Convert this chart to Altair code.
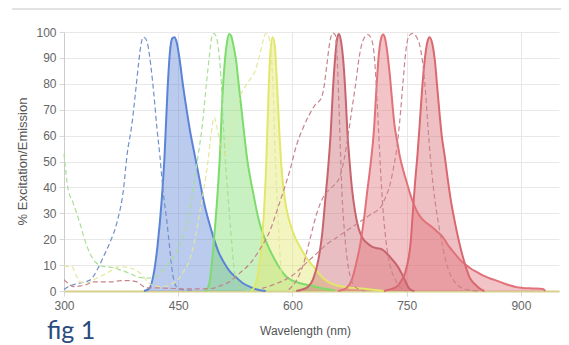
import altair as alt
import pandas as pd

# ---------------- data (wavelength nm, % value) ----------------
blue_ex_nm = [300, 308, 320, 334, 345, 353, 360, 370, 378, 383, 389, 394, 398, 401, 404, 407, 410, 414, 418, 422, 426, 430, 435, 439, 443, 448, 455, 470]
blue_ex_val = [0.6, 2, 3, 4.2, 9, 14, 18.5, 27, 39, 53, 64, 77, 88, 95, 98, 97.5, 95, 87, 76, 63, 52, 39, 27, 16, 6, 1.5, 0.5, 0.3]

blue_em_nm = [405, 412, 418, 423, 428, 432, 436, 439, 442, 445, 448, 452, 456, 461, 466, 472, 478, 484, 490, 496, 503, 510, 518, 527, 535, 545, 555, 565]
blue_em_val = [0, 1, 7, 18, 34, 52, 78, 92, 97.5, 98, 96, 89, 80, 70, 61, 52, 43, 34, 27, 21, 15, 11, 7.5, 5, 3, 1.5, 0.5, 0]

green_ex_nm = [300, 305, 312, 320, 327, 334, 342, 352, 365, 375, 385, 396, 410, 420, 428, 437, 446, 455, 463, 470, 476, 482, 487, 491, 494, 497, 500, 503, 506, 509, 512, 515, 518, 521, 524, 528, 535, 545]
green_ex_val = [53, 40, 34, 27, 20, 14.5, 11, 9.5, 9, 8, 7, 5.5, 5, 5.5, 7.5, 10.5, 14, 20, 27, 40, 52, 65, 80, 91, 98, 99.5, 98, 93, 83, 66, 50, 38, 27, 16, 7, 2, 0.5, 0]

green_em_nm = [485, 490, 494, 497, 501, 505, 508, 511, 514, 517, 520, 523, 526, 529, 532, 535, 538, 541, 545, 549, 553, 558, 564, 570, 577, 584, 592, 600, 610, 625, 640, 655]
green_em_val = [0, 2, 10, 20, 35, 54, 75, 88, 96, 99.2, 98, 94, 89, 81, 73, 65, 57, 50, 43, 37, 31, 25, 20, 16, 12, 8.5, 5.5, 4, 3, 2, 1, 0.3]

yellow_ex_nm = [300, 310, 316, 321, 330, 340, 350, 360, 372, 385, 395, 403, 410, 418, 430, 440, 450, 458, 465, 472, 478, 484, 489, 493, 497, 501, 506, 510, 514, 519, 525, 531, 538, 545, 551, 556, 561, 565, 569, 572, 575, 577, 580, 583, 586, 590, 600]
yellow_ex_val = [9.5, 9.5, 6, 3.5, 3, 4.5, 6, 7.5, 9.4, 9, 8, 6, 3.5, 2, 1.7, 2.5, 4.5, 8, 12, 20, 30, 40, 50, 60, 67, 63, 55, 52, 56, 62, 70, 75, 79, 82, 85, 90, 96, 99.5, 98, 92, 75, 55, 35, 17, 5, 1, 0]

yellow_em_nm = [545, 550, 555, 559, 562, 565, 567, 569, 571, 574, 577, 579, 581, 583, 585, 588, 592, 597, 603, 610, 618, 626, 634, 642, 650, 660, 675, 690, 705, 720]
yellow_em_val = [0, 1.5, 7, 16, 28, 45, 62, 80, 92, 98, 94, 84, 72, 60, 50, 40, 32, 26, 21, 17, 13, 10, 7, 4.5, 3, 2, 1.3, 1, 0.5, 0]

red1_ex_nm = [300, 305, 312, 322, 330, 338, 350, 362, 375, 385, 396, 403, 408, 420, 440, 470, 495, 505, 518, 531, 544, 557, 570, 583, 597, 605, 614, 622, 630, 637, 641, 645, 649, 653, 656, 659, 661, 663, 665, 668, 672, 677, 684, 695]
red1_ex_val = [4.4, 3, 1.7, 2, 2.5, 3.5, 3.5, 3.5, 4, 4, 3.5, 2, 1.2, 1.2, 1, 0.8, 1, 2, 3.7, 7, 10.5, 16, 23, 34, 47, 56, 63, 68, 72, 74, 78, 87, 96, 99.6, 99, 88, 72, 54, 38, 24, 12, 4.5, 1.2, 0]

red1_em_nm = [605, 612, 620, 627, 634, 639, 643, 647, 650, 653, 656, 659, 661, 664, 667, 670, 672, 675, 678, 682, 687, 692, 698, 705, 712, 718, 724, 730, 737, 743, 748, 752, 756, 760]
red1_em_val = [0, 0.5, 1.5, 4.5, 12, 22, 35, 48, 60, 77, 90, 98, 99.2, 96, 88, 74, 62, 50, 40, 31, 24, 20.5, 18.5, 17, 16.5, 16, 14.5, 12.5, 10, 7, 4, 1.5, 0.3, 0]

red2_ex_nm = [595, 605, 614, 623, 632, 640, 648, 655, 662, 668, 673, 678, 683, 688, 693, 699, 704, 707, 710, 713, 716, 719, 723, 728, 734, 741, 750]
red2_ex_val = [0.5, 4, 10, 20, 30, 36, 39, 41, 44, 51, 60, 70, 80, 91, 97, 99, 97, 92, 80, 62, 45, 31, 19, 10, 5, 1.5, 0]

red2_em_nm = [660, 665, 671, 678, 684, 689, 694, 698, 703, 707, 710, 713, 716, 719, 722, 725, 728, 731, 734, 738, 741, 746, 750, 754, 760, 767, 775, 782, 790, 797, 806, 813, 820, 828, 835, 843, 850, 858, 868, 877, 885, 894, 902, 915, 929, 932]
red2_em_val = [0, 0.4, 1.2, 4.4, 11, 18, 28, 38, 50, 62, 77, 90, 97, 99, 97, 91, 83, 73, 64, 57, 52, 46, 42, 38, 33, 29, 26.5, 25, 23, 21, 17, 14.5, 12, 10, 8.5, 7.2, 6, 5, 4, 3, 2.2, 1.5, 1.2, 1, 0.8, 0]

red3_ex_nm = [560, 580, 600, 615, 630, 645, 660, 675, 690, 705, 715, 722, 728, 733, 737, 741, 745, 749, 753, 758, 763, 767, 771, 775, 778, 781, 785, 789, 793, 797, 802, 807, 813, 820, 830, 845]
red3_ex_val = [1, 3, 6, 10, 14, 18, 21, 24, 27, 30, 32, 36, 41, 48, 55, 66, 80, 93, 98.5, 99.5, 98, 95, 88, 76, 63, 52, 40, 31, 24, 17.5, 11, 6.5, 3.5, 1.5, 0.5, 0]

red3_em_nm = [720, 730, 737, 743, 748, 752, 755, 758, 761, 764, 767, 770, 774, 777, 780, 784, 787, 790, 793, 796, 800, 804, 808, 813, 818, 823, 828, 833, 840, 848, 852]
red3_em_val = [0, 0.8, 1.7, 4, 7, 12, 18, 30, 42, 52, 64, 77, 90, 96, 98, 95, 89, 79, 69, 60, 52, 43, 35, 27, 20, 14, 9, 5, 2.5, 0.5, 0]

x_ticks = [300, 450, 600, 750, 900]
y_ticks = [0, 10, 20, 30, 40, 50, 60, 70, 80, 90, 100]

# ---------------- styles ----------------
em_colors = {"blue": "#5b84d6", "green": "#7ddc6b", "yellow": "#e2e76a",
             "red1": "#c8646e", "red2": "#e2727a", "red3": "#da6870"}
ex_colors = {"blue": "#7091c9", "green": "#a8df95", "yellow": "#e4e79c",
             "red1": "#c6848b", "red2": "#c9858c", "red3": "#c9858c"}

em_sets = [("blue", blue_em_nm, blue_em_val), ("green", green_em_nm, green_em_val),
           ("yellow", yellow_em_nm, yellow_em_val), ("red1", red1_em_nm, red1_em_val),
           ("red2", red2_em_nm, red2_em_val), ("red3", red3_em_nm, red3_em_val)]
ex_sets = [("blue", blue_ex_nm, blue_ex_val), ("green", green_ex_nm, green_ex_val),
           ("yellow", yellow_ex_nm, yellow_ex_val), ("red1", red1_ex_nm, red1_ex_val),
           ("red2", red2_ex_nm, red2_ex_val), ("red3", red3_ex_nm, red3_ex_val)]

rows = []
for kind, sets, cmap in (("em", em_sets, em_colors), ("ex", ex_sets, ex_colors)):
    for name, xs, ys in sets:
        for x, y in zip(xs, ys):
            rows.append({"nm": x, "val": y, "series": kind + "_" + name,
                         "kind": kind, "col": cmap[name]})
df = pd.DataFrame(rows)

FONT = "Liberation Sans"
xscale = alt.Scale(domain=[300, 950], nice=False, zero=False)
yscale = alt.Scale(domain=[0, 100], nice=False)

x_enc = alt.X("nm:Q", scale=xscale,
              axis=alt.Axis(values=x_ticks, title="Wavelength (nm)",
                            labelFont=FONT, labelFontSize=12, labelColor="#666666",
                            labelPadding=4, labelFlush=False, labelOverlap=False,
                            tickSize=5, tickColor="#d8d8d8",
                            domainColor="#d6cf8e", domainWidth=2,
                            gridColor="#e8e8e8", titleFont=FONT, titleFontSize=12,
                            titleFontWeight="normal", titleColor="#555555",
                            titleX=241, titleY=43, titleBaseline="alphabetic"))
y_enc = alt.Y("val:Q", scale=yscale, stack=None,
              axis=alt.Axis(values=y_ticks, title="% Excitation/Emission",
                            labelFont=FONT, labelFontSize=12, labelColor="#666666",
                            labelPadding=3, labelOverlap=False, labelFlush=False,
                            tickSize=5, tickColor="#d8d8d8",
                            domainColor="#cccccc", gridColor="#e8e8e8",
                            titleFont=FONT, titleFontSize=13, titleFontWeight="normal",
                            titleColor="#555555", titleAngle=-90, titleX=-42, titleY=129,
                            titleAlign="center", titleBaseline="middle"))

base = alt.Chart(df).encode(x=x_enc, y=y_enc, detail="series:N")

areas = base.transform_filter(alt.datum.kind == "em").mark_area(
    interpolate="monotone", fillOpacity=0.42).encode(fill=alt.Fill("col:N", scale=None))
em_lines = base.transform_filter(alt.datum.kind == "em").mark_line(
    interpolate="monotone", strokeWidth=2).encode(stroke=alt.Stroke("col:N", scale=None))
ex_lines = base.transform_filter(alt.datum.kind == "ex").mark_line(
    interpolate="monotone", strokeWidth=1.2, strokeDash=[5, 3]).encode(
    stroke=alt.Stroke("col:N", scale=None))

deco = pd.DataFrame({"k": [0]})
top_rule = alt.Chart(deco).mark_rule(color="#e2e2e2", strokeWidth=2).encode(
    x=alt.value(-52), x2=alt.value(505), y=alt.value(-23))
fig_text = alt.Chart(deco).mark_text(text="fig 1", font="Lato", fontSize=25,
                                     color="#2a4b7c", align="left",
                                     baseline="alphabetic").encode(
    x=alt.value(-17), y=alt.value(307))

chart = alt.layer(areas, em_lines, ex_lines, top_rule, fig_text).properties(
    width=495, height=259, autosize="none",
    padding={"left": 56, "top": 24, "right": 2, "bottom": 54}
).configure_view(stroke=None)

chart.save("out.html", embed_options={"renderer": "svg", "actions": False})
